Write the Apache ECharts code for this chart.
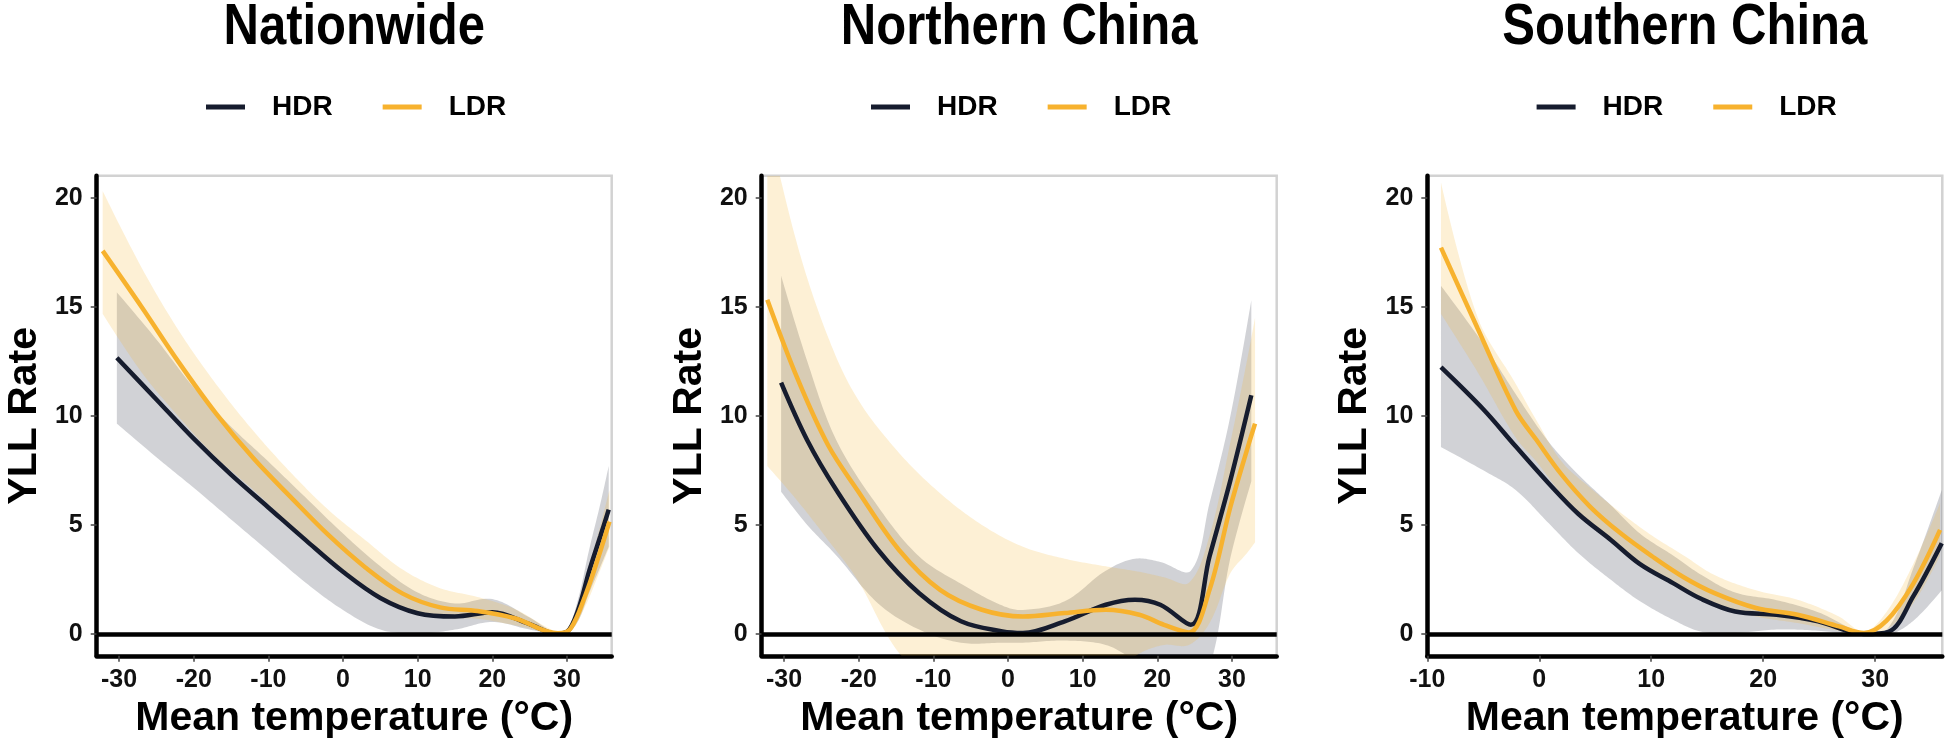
<!DOCTYPE html>
<html>
<head>
<meta charset="utf-8">
<script src="https://cdn.jsdelivr.net/npm/echarts@6/dist/echarts.min.js"></script>
<style>
html,body{margin:0;padding:0;background:#fff;}
#chart{width:1946px;height:748px;}
</style>
</head>
<body>
<div id="chart"></div>
<script>
// ---------- labels ----------
const panelTitles = ['Nationwide', 'Northern China', 'Southern China'];
const seriesNames = ['HDR', 'LDR'];
const xAxisTitle = 'Mean temperature (°C)';
const yAxisTitle = 'YLL Rate';
const yTicks = [0, 5, 10, 15, 20];
const xTicksWide = [-30, -20, -10, 0, 10, 20, 30];
const xTicksSouth = [-10, 0, 10, 20, 30];

// ---------- Nationwide ----------
const natHdrX  = [-30.3, -25, -20, -15, -10, -5, 0, 5, 10, 15, 20, 25, 28.5, 30, 31.5, 33, 34.5, 35.6];
const natHdrY  = [12.66, 10.75, 8.95, 7.3, 5.8, 4.3, 2.85, 1.65, 0.95, 0.8, 1.0, 0.45, 0.02, 0.1, 1.1, 2.9, 4.5, 5.7];
const natHdrLo = [9.64, 8.1, 6.7, 5.25, 3.8, 2.35, 1.1, 0.2, 0.02, 0.2, 0.55, 0.2, 0.0, 0.0, 0.6, 1.9, 3.1, 4.0];
const natHdrHi = [15.66, 13.5, 11.3, 9.5, 7.9, 6.25, 4.6, 3.1, 1.9, 1.4, 1.6, 0.75, 0.05, 0.2, 1.6, 3.9, 6.0, 7.7];
const natLdrX  = [-32.2, -27, -22, -17, -12, -7, -2, 3, 8, 13, 18, 23, 28.8, 30.5, 32.5, 34.2, 35.7];
const natLdrY  = [17.56, 15.0, 12.45, 10.1, 8.05, 6.27, 4.55, 3.05, 1.85, 1.22, 1.05, 0.72, 0.03, 0.25, 1.8, 3.5, 5.15];
const natLdrLo = [14.67, 12.0, 9.95, 8.1, 6.6, 5.0, 3.5, 2.2, 1.2, 0.75, 0.7, 0.4, 0.0, 0.1, 1.3, 2.7, 4.0];
const natLdrHi = [20.3, 16.8, 13.9, 11.45, 9.3, 7.4, 5.7, 4.3, 2.95, 2.1, 1.7, 1.15, 0.1, 0.45, 2.5, 4.6, 6.6];

// ---------- Northern China ----------
const norHdrX  = [-30.4, -26.9, -23.0, -17.4, -11.9, -6.3, -0.75, 2.0, 7.6, 13.1, 17.0, 20.4, 24.5, 27.0, 29.8, 32.6];
const norHdrY  = [11.52, 8.88, 6.6, 3.85, 1.87, 0.58, 0.12, 0.05, 0.58, 1.34, 1.57, 1.34, 0.42, 3.55, 7.05, 10.94];
const norHdrLo = [6.52, 5.0, 3.6, 1.4, 0.2, -0.4, -0.4, -0.4, -0.3, -0.5, -1.2, -1.8, -2.0, -1.5, 3.5, 7.0];
const norHdrHi = [16.42, 12.5, 8.88, 5.83, 3.55, 2.3, 1.3, 1.1, 1.5, 2.9, 3.45, 3.3, 2.9, 6.0, 10.0, 15.3];
const norLdrX  = [-32.25, -28.2, -24.1, -20.2, -14.6, -9.1, -3.5, 2.0, 7.6, 13.1, 17.6, 20.9, 24.25, 27.0, 29.8, 32.0, 33.1];
const norLdrY  = [15.32, 11.7, 8.65, 6.6, 3.85, 2.02, 1.11, 0.8, 0.96, 1.11, 0.88, 0.42, 0.07, 2.02, 5.83, 8.42, 9.64];
const norLdrLo = [7.7, 6.1, 4.3, 2.5, -0.87, -2.3, -3.0, -3.2, -3.0, -2.0, -0.9, -0.5, -0.5, 0.5, 2.79, 3.7, 4.2];
const norLdrHi = [23.5, 17.8, 13.6, 10.8, 8.3, 6.45, 5.0, 4.0, 3.45, 3.1, 2.85, 2.6, 2.35, 4.5, 8.8, 12.5, 14.5];

// ---------- Southern China ----------
const souHdrX  = [-8.78, -5, -2.11, 0.85, 3.5, 6.4, 9, 11.95, 14.5, 17.5, 21.2, 24.9, 29.0, 31.2, 33.4, 35.95];
const souHdrY  = [12.23, 10.3, 8.6, 6.9, 5.5, 4.31, 3.2, 2.33, 1.6, 1.03, 0.88, 0.58, 0.0, 0.1, 1.72, 4.16];
const souHdrLo = [8.57, 7.5, 6.6, 5.07, 3.7, 2.48, 1.5, 0.65, 0.1, 0.05, 0.2, 0.15, -0.05, -0.05, 0.6, 2.0];
const souHdrHi = [15.96, 13.3, 11.0, 8.8, 7.3, 5.9, 4.6, 3.6, 2.7, 1.9, 1.55, 1.0, 0.05, 0.3, 3.0, 6.6];
const souLdrX  = [-8.78, -5.5, -2.11, -0.26, 2, 4.55, 7.3, 10.1, 12.9, 15.66, 19.36, 23.07, 26.77, 29.0, 31.0, 33.4, 35.8];
const souLdrY  = [17.71, 14.0, 10.25, 8.9, 7.3, 5.83, 4.6, 3.55, 2.6, 1.87, 1.19, 0.88, 0.35, 0.05, 0.6, 2.3, 4.77];
const souLdrLo = [14.67, 12.0, 9.0, 7.9, 6.4, 5.0, 3.9, 2.9, 2.0, 1.35, 0.8, 0.5, 0.15, 0.0, 0.2, 1.4, 3.6];
const souLdrHi = [20.69, 14.5, 11.47, 9.8, 7.9, 6.7, 5.55, 4.5, 3.6, 2.7, 2.0, 1.57, 0.8, 0.1, 1.0, 3.2, 6.0];

// ---------- styling ----------
const hdrColor = '#161c2e';
const ldrColor = '#f7b22e';
const hdrFill = 'rgba(27,32,52,0.2)';
const ldrFill = 'rgba(247,178,46,0.2)';
const FONT = 'Liberation Sans';

const gridLefts = [96.7, 761.7, 1427.3];
const gridWidth = 515;
const gridTop = 175.8;
const gridHeight = 480;
const xMins = [-33, -33, -10];
const xMax = 36;
const yMin = -1, yMax = 21;
const xTickSets = [xTicksWide, xTicksWide, xTicksSouth];

const panels = [
  {hx: natHdrX, hy: natHdrY, hlo: natHdrLo, hhi: natHdrHi, lx: natLdrX, ly: natLdrY, llo: natLdrLo, lhi: natLdrHi},
  {hx: norHdrX, hy: norHdrY, hlo: norHdrLo, hhi: norHdrHi, lx: norLdrX, ly: norLdrY, llo: norLdrLo, lhi: norLdrHi},
  {hx: souHdrX, hy: souHdrY, hlo: souHdrLo, hhi: souHdrHi, lx: souLdrX, ly: souLdrY, llo: souLdrLo, lhi: souLdrHi}
];

const SMOOTH = 0.35;

// sample a smoothed curve through pixel points (same control-point rule as ECharts line smoothing)
function smoothSample(pts, smooth, steps) {
  const n = pts.length;
  if (n < 3) return pts.slice();
  const cpA = [], cpB = [];
  for (let i = 0; i < n; i++) {
    const p = pts[i];
    if (i === 0 || i === n - 1) { cpA.push(p); cpB.push(p); continue; }
    const prev = pts[i - 1], next = pts[i + 1];
    const vx = next[0] - prev[0], vy = next[1] - prev[1];
    const d0 = Math.hypot(p[0] - prev[0], p[1] - prev[1]);
    const d1 = Math.hypot(next[0] - p[0], next[1] - p[1]);
    const r = d1 / (d0 + d1 || 1);
    cpB.push([p[0] - vx * smooth * (1 - r), p[1] - vy * smooth * (1 - r)]);
    cpA.push([p[0] + vx * smooth * r, p[1] + vy * smooth * r]);
  }
  const out = [pts[0]];
  for (let i = 0; i < n - 1; i++) {
    const p0 = pts[i], c1 = cpA[i], c2 = cpB[i + 1], p1 = pts[i + 1];
    for (let s = 1; s <= steps; s++) {
      const t = s / steps, u = 1 - t;
      out.push([
        u*u*u*p0[0] + 3*u*u*t*c1[0] + 3*u*t*t*c2[0] + t*t*t*p1[0],
        u*u*u*p0[1] + 3*u*u*t*c1[1] + 3*u*t*t*c2[1] + t*t*t*p1[1]
      ]);
    }
  }
  return out;
}

function ribbon(xs, lo, hi, fill, gi) {
  return {
    type: 'custom', xAxisIndex: gi, yAxisIndex: gi, silent: true, clip: true,
    data: xs.map((v, k) => [v, lo[k], hi[k]]),
    encode: {x: 0, y: [1, 2]},
    renderItem: function (params, api) {
      if (params.dataIndexInside !== 0) return null;
      const n = params.dataInsideLength;
      const top = [], bot = [];
      for (let k = 0; k < n; k++) {
        const x = api.value(0, k);
        bot.push(api.coord([x, api.value(1, k)]));
        top.push(api.coord([x, api.value(2, k)]));
      }
      const upper = smoothSample(top, SMOOTH, 16);
      const lower = smoothSample(bot, SMOOTH, 16).reverse();
      const cs = params.coordSys;
      return {
        type: 'polygon',
        shape: {points: upper.concat(lower)},
        style: {fill: fill, stroke: null},
        clipPath: {type: 'rect', shape: {x: cs.x, y: cs.y, width: cs.width, height: cs.height}}
      };
    }
  };
}

const grids = [], xAxes = [], yAxes = [], series = [], legends = [], graphics = [];

panels.forEach((p, i) => {
  grids.push({
    left: gridLefts[i], top: gridTop, width: gridWidth, height: gridHeight,
    show: true, borderColor: '#d2d2d2', borderWidth: 2.5, backgroundColor: '#fff'
  });
  xAxes.push({
    type: 'value', gridIndex: i, min: xMins[i], max: xMax,
    name: xAxisTitle, nameLocation: 'middle', nameGap: 40,
    nameTextStyle: {fontFamily: FONT, fontWeight: 'bold', fontSize: 41, color: '#000'},
    axisLine: {show: true, onZero: false, lineStyle: {color: '#000', width: 4.5}},
    axisTick: {show: true, customValues: xTickSets[i], length: 6, lineStyle: {color: '#444', width: 1.5}},
    axisLabel: {customValues: xTickSets[i], fontFamily: FONT, fontWeight: 'bold', fontSize: 25, color: '#111', margin: 12},
    splitLine: {show: false}
  });
  yAxes.push({
    type: 'value', gridIndex: i, min: yMin, max: yMax,
    name: yAxisTitle, nameLocation: 'middle', nameGap: 52,
    nameTextStyle: {fontFamily: FONT, fontWeight: 'bold', fontSize: 41, color: '#000'},
    axisLine: {show: true, onZero: false, lineStyle: {color: '#000', width: 4.5}},
    axisTick: {show: true, customValues: yTicks, length: 6, lineStyle: {color: '#444', width: 1.5}},
    axisLabel: {customValues: yTicks, fontFamily: FONT, fontWeight: 'bold', fontSize: 25, color: '#111', margin: 14},
    splitLine: {show: false}
  });

  series.push(ribbon(p.hx, p.hlo, p.hhi, hdrFill, i));
  series.push({
    type: 'line', name: seriesNames[0], xAxisIndex: i, yAxisIndex: i,
    data: p.hx.map((v, k) => [v, p.hy[k]]),
    symbol: 'none', smooth: SMOOTH,
    lineStyle: {color: hdrColor, width: 4.5},
    itemStyle: {color: hdrColor}
  });
  series.push(ribbon(p.lx, p.llo, p.lhi, ldrFill, i));
  series.push({
    type: 'line', name: seriesNames[1], xAxisIndex: i, yAxisIndex: i,
    data: p.lx.map((v, k) => [v, p.ly[k]]),
    symbol: 'none', smooth: SMOOTH,
    lineStyle: {color: ldrColor, width: 4.5},
    itemStyle: {color: ldrColor},
    markLine: {
      silent: true, symbol: 'none', animation: false,
      label: {show: false},
      lineStyle: {color: '#000', width: 4.5, type: 'solid'},
      data: [{yAxis: 0}]
    }
  });

  legends.push({
    data: seriesNames,
    left: gridLefts[i] + 109.3, top: 93, padding: 0,
    icon: 'rect', itemWidth: 39, itemHeight: 5, itemGap: 50,
    selectedMode: false,
    textStyle: {fontFamily: FONT, fontWeight: 'bold', fontSize: 28, color: '#000', padding: [0, 0, 0, 22]}
  });

  graphics.push({
    type: 'text', x: gridLefts[i] + gridWidth / 2, y: 28, scaleX: 0.86,
    style: {text: panelTitles[i], fontFamily: FONT, fontWeight: 'bold', fontSize: 57, fill: '#000',
            align: 'center', verticalAlign: 'middle'}
  });
});

const chart = echarts.init(document.getElementById('chart'), null, {renderer: 'canvas'});
chart.setOption({
  animation: false,
  backgroundColor: '#fff',
  grid: grids, xAxis: xAxes, yAxis: yAxes,
  legend: legends, series: series, graphic: graphics
});
</script>
</body>
</html>
